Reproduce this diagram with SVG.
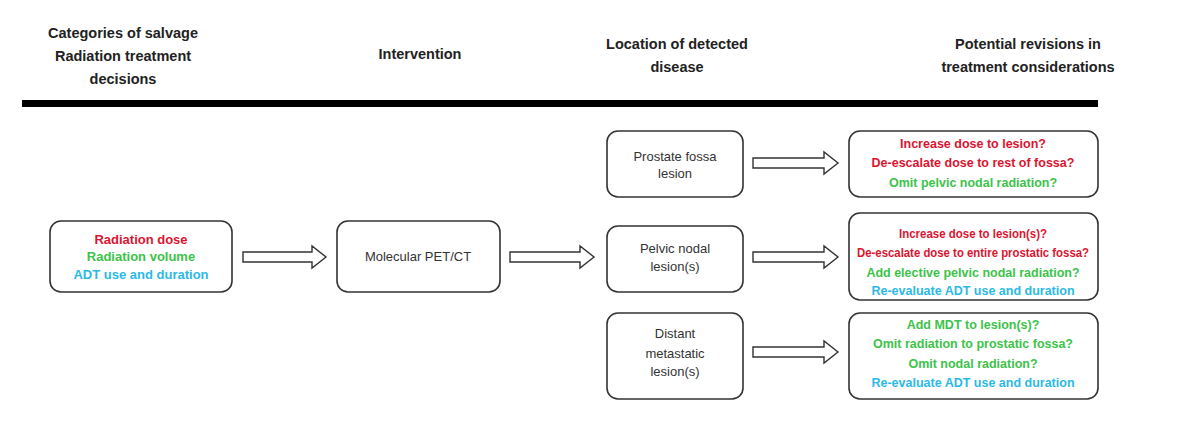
<svg xmlns="http://www.w3.org/2000/svg" width="1200" height="421" viewBox="0 0 1200 421">
<style>
.hd{font-family:"Liberation Sans",Arial,sans-serif;font-size:14.5px;font-weight:bold;fill:#222;text-anchor:middle}
.box{fill:#fff;stroke:#333;stroke-width:1.6}
.t{font-family:"Liberation Sans",Arial,sans-serif;font-size:13px;fill:#333;text-anchor:middle}
.b{font-family:"Liberation Sans",Arial,sans-serif;font-size:12.5px;font-weight:bold;text-anchor:middle}
.l{font-size:13px}
.r{fill:#dc1430}.g{fill:#3cc34a}.c{fill:#2cb9e6}
.arr{fill:#fff;stroke:#333;stroke-width:1.4;stroke-linejoin:miter}
</style>
<rect width="1200" height="421" fill="#fff"/>
<g id="headers">
<text class="hd" x="123" y="38">Categories of salvage</text>
<text class="hd" x="123" y="61">Radiation treatment</text>
<text class="hd" x="123" y="84">decisions</text>
<text class="hd" x="420" y="59">Intervention</text>
<text class="hd" x="677" y="49">Location of detected</text>
<text class="hd" x="677" y="72">disease</text>
<text class="hd" x="1028" y="49">Potential  revisions in</text>
<text class="hd" x="1028" y="72">treatment considerations</text>
<rect x="22" y="100" width="1076" height="7" fill="#000"/>
</g>
<g id="connectors">
<polygon class="arr" points="243,252 312,252 312,246 326,257 312,268 312,262 243,262"/>
<polygon class="arr" points="510,252 580,252 580,246 594,257 580,268 580,262 510,262"/>
<polygon class="arr" points="753,158 824,158 824,152 838,163 824,174 824,168 753,168"/>
<polygon class="arr" points="753,252 824,252 824,246 838,257 824,268 824,262 753,262"/>
<polygon class="arr" points="753,347 824,347 824,341 838,352 824,363 824,357 753,357"/>
</g>
<g id="node-categories">
<rect class="box" x="50" y="221" width="182" height="71" rx="11"/>
<text class="b l r" x="141" y="244">Radiation dose</text>
<text class="b l g" x="141" y="261">Radiation volume</text>
<text class="b l c" x="141" y="279">ADT use and duration</text>
</g>
<g id="node-pet">
<rect class="box" x="337" y="221" width="163" height="71" rx="11"/>
<text class="t" x="418" y="261">Molecular PET/CT</text>
</g>
<g id="node-fossa">
<rect class="box" x="607" y="131" width="136" height="66" rx="11"/>
<text class="t" x="675" y="161">Prostate  fossa</text>
<text class="t" x="675" y="178">lesion</text>
</g>
<g id="node-pelvic">
<rect class="box" x="607" y="226" width="136" height="66" rx="11"/>
<text class="t" x="675" y="253">Pelvic nodal</text>
<text class="t" x="675" y="271">lesion(s)</text>
</g>
<g id="node-distant">
<rect class="box" x="607" y="313" width="136" height="86" rx="11"/>
<text class="t" x="675" y="338">Distant</text>
<text class="t" x="675" y="358">metastatic</text>
<text class="t" x="675" y="376">lesion(s)</text>
</g>
<g id="node-rev1">
<rect class="box" x="849" y="131" width="249" height="66" rx="11"/>
<text class="b r" x="973" y="148">Increase dose to lesion?</text>
<text class="b r" x="973" y="167">De-escalate dose to rest of fossa?</text>
<text class="b g" x="973" y="187">Omit pelvic nodal radiation?</text>
</g>
<g id="node-rev2">
<rect class="box" x="849" y="213" width="249" height="87" rx="11"/>
<text class="b r" x="973" y="238" textLength="148" lengthAdjust="spacingAndGlyphs">Increase dose to lesion(s)?</text>
<text class="b r" x="973" y="257" textLength="232" lengthAdjust="spacingAndGlyphs">De-escalate dose to entire prostatic fossa?</text>
<text class="b g" x="973" y="277">Add elective pelvic nodal radiation?</text>
<text class="b c" x="973" y="295">Re-evaluate ADT use and duration</text>
</g>
<g id="node-rev3">
<rect class="box" x="849" y="313" width="249" height="86" rx="11"/>
<text class="b g" x="973" y="329">Add MDT to lesion(s)?</text>
<text class="b g" x="973" y="348">Omit radiation to prostatic fossa?</text>
<text class="b g" x="973" y="368">Omit nodal radiation?</text>
<text class="b c" x="973" y="387">Re-evaluate ADT use and duration</text>
</g>
</svg>
